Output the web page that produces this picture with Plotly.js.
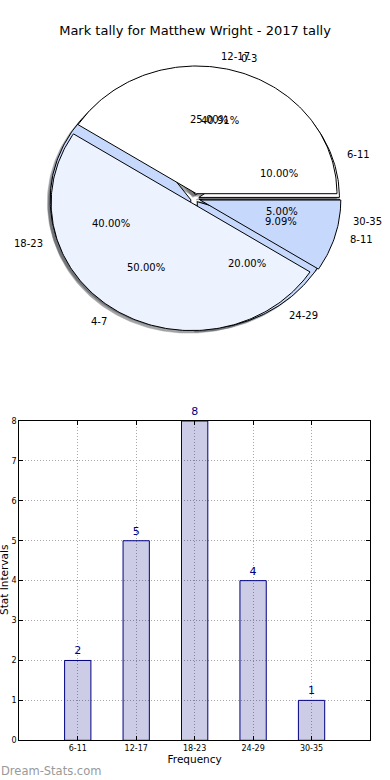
<!DOCTYPE html>
<html>
<head>
<meta charset="utf-8">
<script src="https://cdn.plot.ly/plotly-3.0.1.min.js"></script>
<style>html,body{margin:0;padding:0;background:#fff;}#chart{width:390px;height:780px;}</style>
</head>
<body>
<div id="chart"></div>
<script>
// ---- data ----
const chartTitle = 'Mark tally for Matthew Wright - 2017 tally';
const pieALabels = ['6-11', '12-17', '18-23', '24-29', '30-35'];
const pieAValues = [2, 5, 8, 4, 1];
const pieBLabels = ['0-3', '4-7', '8-11'];
const pieBValues = [9, 11, 2];
const barCategories = ['6-11', '12-17', '18-23', '24-29', '30-35'];
const barValues = [2, 5, 8, 4, 1];
const yTickVals = [0, 1, 2, 3, 4, 5, 6, 7, 8];
const xTitle = 'Frequency';
const yTitle = 'Stat Intervals';
const watermark = 'Dream-Stats.com';

// ---- style ----
const FONT = 'DejaVu Sans, Verdana, sans-serif';
const pieAColors = [[255,255,255],[255,255,255],[198,217,253],[198,217,253],[198,217,253]];
const pieBColors = [[255,255,255],[236,242,254],[198,217,253]];
const explodeA = 0.03, explodeB = 0.04;
const shadowOff = 0.02;

function rgb(c){ return 'rgb(' + c.join(',') + ')'; }

function buildPie(labels, values, colors, explode) {
  const total = values.reduce((a, b) => a + b, 0);
  let acc = 0;
  const out = [];
  values.forEach((v, i) => {
    const f = v / total;
    const t1 = acc * 2 * Math.PI, t2 = (acc + f) * 2 * Math.PI;
    acc += f;
    const mid = (t1 + t2) / 2;
    const cx = explode * Math.cos(mid), cy = explode * Math.sin(mid);
    const n = Math.max(6, Math.ceil((t2 - t1) / (Math.PI / 180)));
    const xs = [cx], ys = [cy];
    for (let k = 0; k <= n; k++) {
      const t = t1 + (t2 - t1) * k / n;
      xs.push(cx + Math.cos(t)); ys.push(cy + Math.sin(t));
    }
    xs.push(cx); ys.push(cy);
    out.push({label: labels[i], frac: f, mid, cx, cy, xs, ys, color: colors[i % colors.length]});
  });
  return out;
}

const wedgesA = buildPie(pieALabels, pieAValues, pieAColors, explodeA);
const wedgesB = buildPie(pieBLabels, pieBValues, pieBColors, explodeB);
const allWedges = wedgesA.concat(wedgesB);

const traces = [];
// shadows (below all wedges)
allWedges.forEach(w => {
  const sc = w.color.map(c => Math.round(c * 0.3));
  traces.push({
    type: 'scatter', mode: 'lines', xaxis: 'x2', yaxis: 'y2',
    x: w.xs.map(v => v - shadowOff), y: w.ys.map(v => v - shadowOff),
    fill: 'toself', fillcolor: rgb(sc), line: {color: rgb(sc), width: 0.5},
    opacity: 0.5, hoverinfo: 'skip', showlegend: false
  });
});
// wedges
allWedges.forEach(w => {
  traces.push({
    type: 'scatter', mode: 'lines', xaxis: 'x2', yaxis: 'y2',
    x: w.xs, y: w.ys, fill: 'toself', fillcolor: rgb(w.color),
    line: {color: '#000000', width: 1}, hoverinfo: 'skip', showlegend: false
  });
});

// bar chart
traces.push({
  type: 'bar', x: barCategories, y: barValues, xaxis: 'x', yaxis: 'y',
  width: 0.45,
  marker: {color: 'rgba(0,0,128,0.2)', line: {color: '#000080', width: 1}},
  text: barValues.map(String), textposition: 'outside', textangle: 0,
  constraintext: 'none', cliponaxis: false,
  textfont: {family: FONT, size: 11, color: '#000080'},
  hoverinfo: 'skip', showlegend: false
});

const annotations = [];
allWedges.forEach(w => {
  const c = Math.cos(w.mid), s = Math.sin(w.mid);
  const xl = w.cx + 1.1 * c, yl = w.cy + 1.1 * s;
  annotations.push({
    xref: 'x2', yref: 'y2', x: xl, y: yl, text: w.label, showarrow: false,
    xanchor: xl > 0 ? 'left' : 'right', yanchor: 'middle', borderpad: 0,
    font: {family: FONT, size: 10, color: '#000'}
  });
  annotations.push({
    xref: 'x2', yref: 'y2', x: w.cx + 0.6 * c, y: w.cy + 0.6 * s,
    text: (w.frac * 100).toFixed(2) + '%', showarrow: false,
    xanchor: 'center', yanchor: 'middle', borderpad: 0,
    font: {family: FONT, size: 10, color: '#000'}
  });
});
annotations.push({
  xref: 'paper', yref: 'paper', x: 4 / 390, y: (780 - 580) / 780, text: yTitle,
  textangle: -90, showarrow: false, xanchor: 'center', yanchor: 'middle',
  font: {family: FONT, size: 10.5, color: '#000'}
});
annotations.push({
  xref: 'paper', yref: 'paper', x: 0, y: 9 / 780, text: watermark,
  showarrow: false, xanchor: 'left', yanchor: 'middle', borderpad: 0,
  font: {family: FONT, size: 11.5, color: '#999999'}
});

// pie axis mapping (pixels): center 194.8,198.6 ; rx 140.6 ry 127.7
const pcx = 194.8, pcy = 198.6, prx = 140.6, pry = 127.7;

const axCommon = {
  showline: true, mirror: 'ticks', linecolor: '#000', linewidth: 1,
  ticks: 'inside', ticklen: 4, tickcolor: '#000', tickwidth: 1,
  showgrid: true, gridcolor: '#a8a8a8', griddash: '1px,2px', gridwidth: 1,
  zeroline: false, tickfont: {family: FONT, size: 8, color: '#000'},
  fixedrange: true
};

const layout = {
  width: 390, height: 780,
  margin: {l: 0, r: 0, t: 0, b: 0},
  paper_bgcolor: '#fff', plot_bgcolor: 'rgba(0,0,0,0)',
  font: {family: FONT},
  title: {text: chartTitle, x: 0.5, xanchor: 'center', y: 1 - 30 / 780, yanchor: 'middle',
          font: {family: FONT, size: 13, color: '#000'}},
  showlegend: false,
  xaxis: Object.assign({}, axCommon, {
    type: 'category', range: [-1, 5], domain: [19.3 / 390, 370 / 390], anchor: 'y',
    title: {text: xTitle, standoff: 3, font: {family: FONT, size: 10.5, color: '#000'}}
  }),
  yaxis: Object.assign({}, axCommon, {
    range: [0, 8], tickvals: yTickVals, domain: [(780 - 740.3) / 780, (780 - 421) / 780], anchor: 'x'
  }),
  xaxis2: {domain: [0, 1], range: [-pcx / prx, (390 - pcx) / prx], visible: false, anchor: 'y2', fixedrange: true},
  yaxis2: {domain: [0.5, 1], range: [(pcy - 390) / pry, pcy / pry], visible: false, anchor: 'x2', fixedrange: true},
  annotations: annotations
};

Plotly.newPlot('chart', traces, layout, {displayModeBar: false, staticPlot: true});
</script>
</body>
</html>
